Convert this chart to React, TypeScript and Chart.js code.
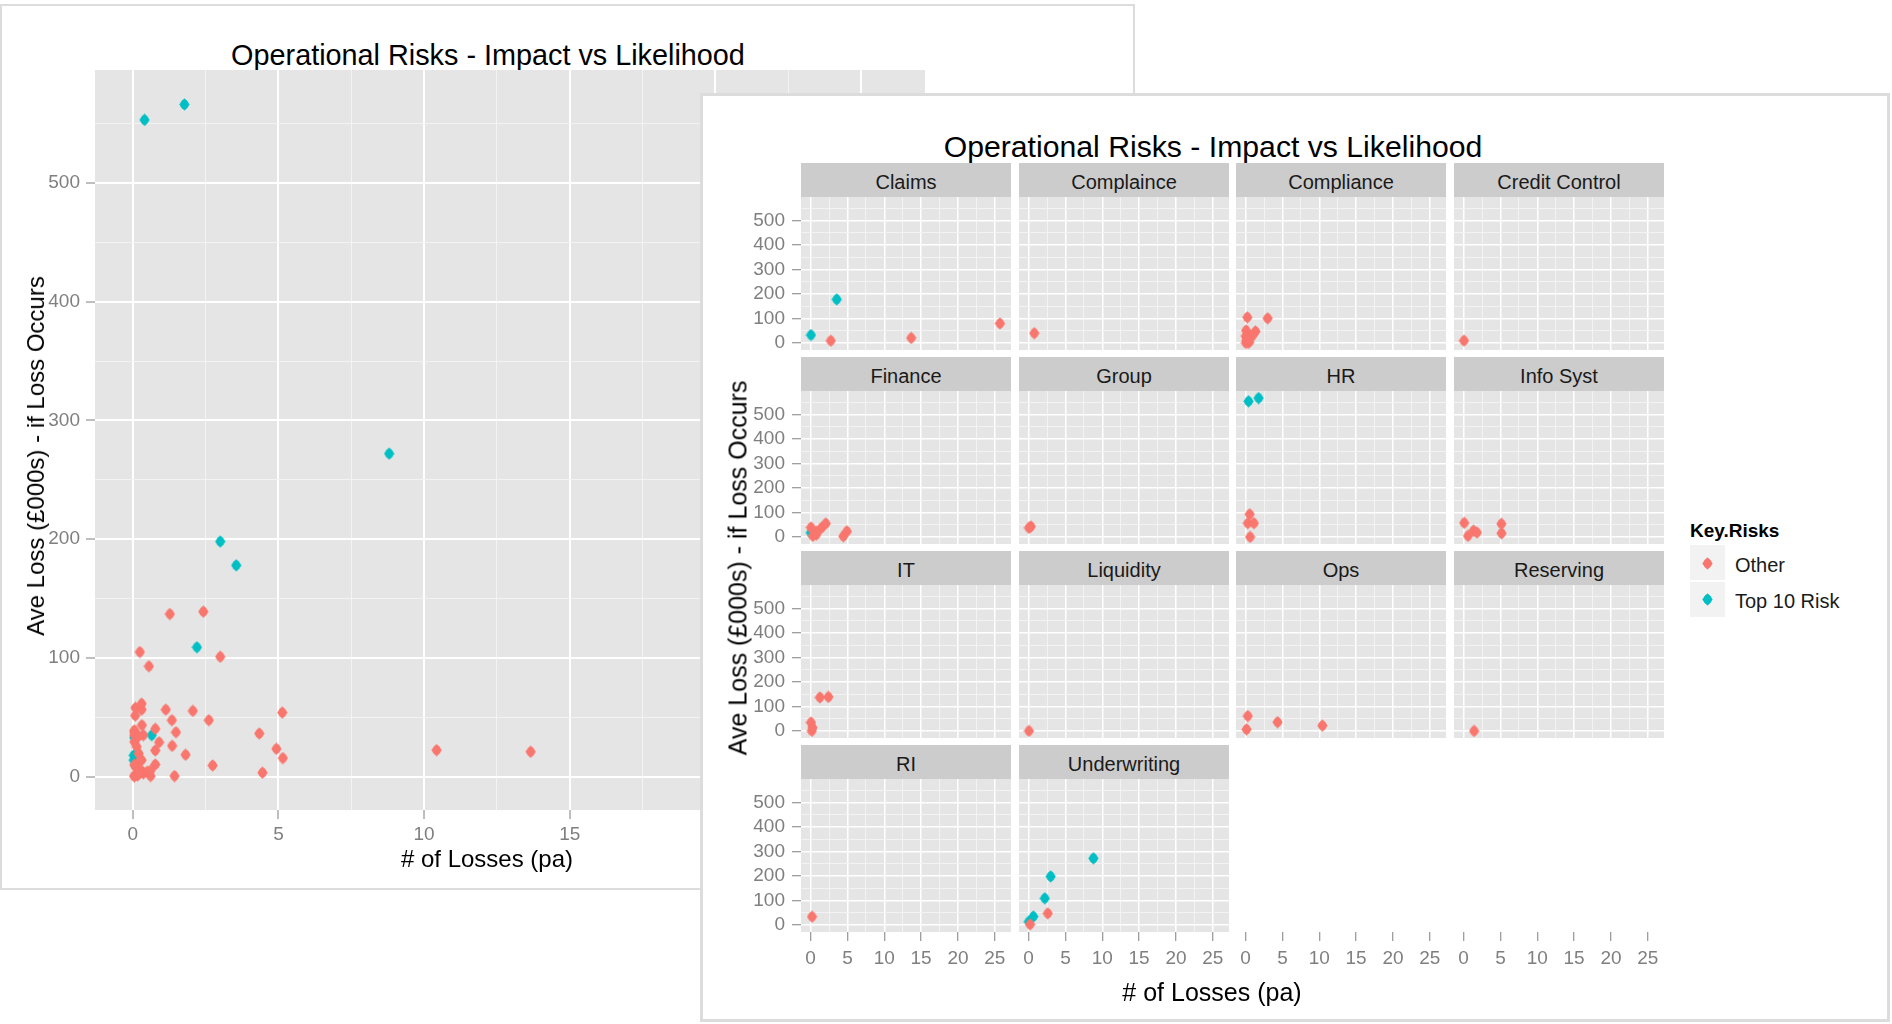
import React, { useEffect, useRef } from 'react';
import { Chart, registerables } from 'chart.js';

Chart.register(...registerables);

const FONT = "'Liberation Sans', Arial, Helvetica, sans-serif";
const OTHER_COLOR = '#F8766D';
const TOP_COLOR = '#00BFC4';

// ---------- data: [# of Losses (pa), Ave Loss (£000s)] ----------
type P = [number, number];
const claimsOther: P[] = [[2.74, 9.5], [13.66, 21], [25.7, 80]];
const claimsTop: P[] = [[0.05, 33], [3.55, 178]];
const complainceOther: P[] = [[0.77, 40.3]];
const complainceTop: P[] = [];
const complianceOther: P[] = [[0.24, 105], [3.0, 101], [0.08, 51.5], [1.34, 47.6], [0.36, 35], [0.13, 25.2], [0.05, 29.4], [0.2, 19.6], [0.49, 4.2], [0.36, 2.8], [0.1, 9], [0.9, 29], [0.05, 0.5], [0.3, 14]];
const complianceTop: P[] = [];
const creditControlOther: P[] = [[0.05, 10]];
const creditControlTop: P[] = [];
const financeOther: P[] = [[0.77, 22.1], [1.48, 37.5], [0.77, 10.3], [2.06, 55.4], [4.45, 3.4], [4.93, 23.5], [0.3, 5], [0.05, 39]];
const financeTop: P[] = [[0.03, 18]];
const groupOther: P[] = [[0.31, 43.4], [0.05, 37.5]];
const groupTop: P[] = [];
const hrOther: P[] = [[0.55, 93], [0.3, 56.5], [1.13, 56.5], [0.61, 0.6]];
const hrTop: P[] = [[0.4, 553], [1.77, 566]];
const infoSystOther: P[] = [[0.09, 58], [0.6, 5], [1.35, 26], [1.81, 18.5], [5.13, 54], [5.15, 15.7]];
const infoSystTop: P[] = [];
const itOther: P[] = [[1.27, 137], [2.42, 139], [0.05, 35], [0.26, 14], [0.16, 1]];
const itTop: P[] = [];
const liquidityOther: P[] = [[0.05, 0.6]];
const liquidityTop: P[] = [];
const opsOther: P[] = [[0.3, 61.5], [0.13, 7], [4.34, 36.4], [10.43, 22.4]];
const opsTop: P[] = [];
const reservingOther: P[] = [[1.43, 0.6]];
const reservingTop: P[] = [];
const riOther: P[] = [[0.2, 34.1]];
const riTop: P[] = [];
const underwritingOther: P[] = [[2.61, 47.6], [0.2, 2.8]];
const underwritingTop: P[] = [[8.8, 272], [3.0, 198], [2.2, 109], [0.65, 35], [0.03, 14]];

const categories = ['Claims', 'Complaince', 'Compliance', 'Credit Control', 'Finance', 'Group', 'HR', 'Info Syst', 'IT', 'Liquidity', 'Ops', 'Reserving', 'RI', 'Underwriting'];
const otherByCategory = [claimsOther, complainceOther, complianceOther, creditControlOther, financeOther, groupOther, hrOther, infoSystOther, itOther, liquidityOther, opsOther, reservingOther, riOther, underwritingOther];
const topByCategory = [claimsTop, complainceTop, complianceTop, creditControlTop, financeTop, groupTop, hrTop, infoSystTop, itTop, liquidityTop, opsTop, reservingTop, riTop, underwritingTop];

const legendLabels = ['Other', 'Top 10 Risk'];
const xMajorTicks = [0, 5, 10, 15, 20, 25];
const xMinorTicks = [2.5, 7.5, 12.5, 17.5, 22.5];
const yMajorTicks = [0, 100, 200, 300, 400, 500];
const yMinorTicks = [50, 150, 250, 350, 450, 550];
const xLimits = [-1.3, 27.2];
const yLimits = [-28, 595];

const TITLE = 'Operational Risks - Impact vs Likelihood';
const X_TITLE = '# of Losses (pa)';
const Y_TITLE = 'Ave Loss (£000s) - if Loss Occurs';

// ---------- helpers ----------
const markerCache: Record<string, HTMLCanvasElement> = {};
function marker(color: string): HTMLCanvasElement {
  if (markerCache[color]) return markerCache[color];
  const c = document.createElement('canvas');
  c.width = 11;
  c.height = 13;
  const g = c.getContext('2d')!;
  g.fillStyle = color;
  g.beginPath();
  g.moveTo(5.5, 0.3);
  g.lineTo(10.7, 6.5);
  g.lineTo(5.5, 12.7);
  g.lineTo(0.3, 6.5);
  g.closePath();
  g.fill();
  g.beginPath();
  g.ellipse(5.5, 6.5, 4.1, 4.9, 0, 0, Math.PI * 2);
  g.fill();
  markerCache[color] = c;
  return c;
}

const panelBg = {
  id: 'panelBg',
  beforeDraw(chart: any, _args: any, opts: any) {
    if (!opts || !opts.color) return;
    const a = chart.chartArea;
    const ctx = chart.ctx;
    ctx.save();
    ctx.fillStyle = opts.color;
    ctx.fillRect(a.left, a.top, a.right - a.left, a.bottom - a.top);
    ctx.restore();
  },
};

function scaleOpts(axis: 'x' | 'y', o: { labels: boolean; grid: boolean; size: number; majorW: number; pad: number }) {
  const majors = axis === 'x' ? xMajorTicks : yMajorTicks;
  const minors = axis === 'x' ? xMinorTicks : yMinorTicks;
  const lim = axis === 'x' ? xLimits : yLimits;
  const all = [...majors, ...minors].sort((a, b) => a - b);
  const isMajor = (v: any) => majors.indexOf(v) >= 0;
  return {
    type: 'linear',
    position: axis === 'x' ? 'bottom' : 'left',
    bounds: 'data',
    min: lim[0],
    max: lim[1],
    afterBuildTicks: (s: any) => {
      s.ticks = all.map((v) => ({ value: v }));
    },
    afterFit: (s: any) => {
      if (axis === 'x') s.height = o.size;
      else s.width = o.size;
    },
    border: { display: false },
    grid: {
      display: true,
      drawOnChartArea: o.grid,
      drawTicks: o.labels,
      tickLength: 9,
      tickWidth: 1,
      tickColor: (c: any) => (c.tick && isMajor(c.tick.value) ? '#7F7F7F' : 'rgba(0,0,0,0)'),
      color: (c: any) => (c.tick && isMajor(c.tick.value) ? '#FFFFFF' : '#F3F3F3'),
      lineWidth: (c: any) => (c.tick && isMajor(c.tick.value) ? o.majorW : 1),
    },
    ticks: {
      display: o.labels,
      autoSkip: false,
      maxRotation: 0,
      minRotation: 0,
      padding: o.pad,
      color: '#7F7F7F',
      font: { family: FONT, size: 19 },
      callback: (v: any) => (isMajor(v) ? String(v) : ''),
    },
  };
}

function datasetsFor(other: P[], top: P[]) {
  return [
    {
      label: legendLabels[0],
      data: other.map(([x, y]) => ({ x, y })),
      pointStyle: marker(OTHER_COLOR),
      pointRadius: 5,
      backgroundColor: OTHER_COLOR,
      borderWidth: 0,
    },
    {
      label: legendLabels[1],
      data: top.map(([x, y]) => ({ x, y })),
      pointStyle: marker(TOP_COLOR),
      pointRadius: 5,
      backgroundColor: TOP_COLOR,
      borderWidth: 0,
    },
  ];
}

function ChartCanvas(props: { left: number; top: number; width: number; height: number; z: number; build: () => any }) {
  const ref = useRef<HTMLCanvasElement>(null);
  useEffect(() => {
    const chart = new Chart(ref.current as HTMLCanvasElement, props.build());
    return () => chart.destroy();
  }, []);
  return (
    <canvas
      ref={ref}
      width={props.width}
      height={props.height}
      style={{ position: 'absolute', left: props.left, top: props.top, width: props.width, height: props.height, zIndex: props.z }}
    />
  );
}

function Text(props: { x: number; y: number; text: string; size: number; z: number; bold?: boolean; color?: string; rotate?: boolean; anchor?: 'center' | 'left' }) {
  const t = props.anchor === 'left' ? 'translate(0,-50%)' : props.rotate ? 'translate(-50%,-50%) rotate(-90deg)' : 'translate(-50%,-50%)';
  return (
    <div
      style={{
        position: 'absolute',
        left: props.x,
        top: props.y,
        transform: t,
        fontFamily: FONT,
        fontSize: props.size,
        fontWeight: props.bold ? 'bold' : 'normal',
        color: props.color || '#000000',
        lineHeight: 1,
        whiteSpace: 'nowrap',
        zIndex: props.z,
      }}
    >
      {props.text}
    </div>
  );
}

// ---------- back (single panel) chart ----------
function buildBack() {
  const allOther = ([] as P[]).concat(...otherByCategory);
  const allTop = ([] as P[]).concat(...topByCategory);
  return {
    type: 'scatter',
    data: { datasets: datasetsFor(allOther, allTop) },
    plugins: [panelBg],
    options: {
      responsive: false,
      animation: false,
      events: [],
      devicePixelRatio: 1,
      layout: { autoPadding: false, padding: { left: 35, top: 70, right: 210, bottom: 39 } },
      scales: {
        x: scaleOpts('x', { labels: true, grid: true, size: 40, majorW: 2, pad: 4 }),
        y: scaleOpts('y', { labels: true, grid: true, size: 60, majorW: 2, pad: 6 }),
      },
      plugins: { legend: { display: false }, tooltip: { enabled: false }, panelBg: { color: '#E5E5E5' } },
    },
  };
}

// ---------- facet layout ----------
const colLeft = [801, 1019, 1236, 1454];
const rowTop = [163, 357, 551, 745];
const STRIP_H = 34;
const PANEL_W = 210;
const PANEL_H = 153;
const PAD = 24;
const Y_AXIS_W = 56;
const X_AXIS_H = 40;

function facetGeometry(col: number, row: number, bottom: boolean) {
  const pl = colLeft[col];
  const pt = rowTop[row] + STRIP_H;
  const yw = col === 0 ? Y_AXIS_W : 0;
  const xh = bottom ? X_AXIS_H : 0;
  const left = pl - PAD - yw;
  const top = pt - PAD;
  const width = PANEL_W + 2 * PAD + yw;
  const height = PANEL_H + 2 * PAD + xh;
  return { left, top, width, height };
}

function buildFacet(i: number | null, col: number, bottom: boolean) {
  const axisOnly = i === null;
  return () => ({
    type: 'scatter',
    data: { datasets: axisOnly ? [] : datasetsFor(otherByCategory[i as number], topByCategory[i as number]) },
    plugins: [panelBg],
    options: {
      responsive: false,
      animation: false,
      events: [],
      devicePixelRatio: 1,
      layout: { autoPadding: false, padding: PAD },
      scales: {
        x: scaleOpts('x', { labels: bottom, grid: !axisOnly, size: bottom ? X_AXIS_H : 0, majorW: 1.5, pad: 6 }),
        y: scaleOpts('y', { labels: col === 0 && !axisOnly, grid: !axisOnly, size: col === 0 ? Y_AXIS_W : 0, majorW: 1.5, pad: 7 }),
      },
      plugins: { legend: { display: false }, tooltip: { enabled: false }, panelBg: { color: axisOnly ? '' : '#E5E5E5' } },
    },
  });
}

function LegendMarker(props: { x: number; y: number; color: string; z: number }) {
  return (
    <svg width={11} height={13} style={{ position: 'absolute', left: props.x - 5.5, top: props.y - 6.5, zIndex: props.z }}>
      <polygon points="5.5,0.3 10.7,6.5 5.5,12.7 0.3,6.5" fill={props.color} />
      <ellipse cx={5.5} cy={6.5} rx={4.1} ry={4.9} fill={props.color} />
    </svg>
  );
}

export default function App() {
  const facetCells = categories.map((name, i) => {
    const col = i % 4;
    const row = Math.floor(i / 4);
    const bottom = row === 3;
    return { name, i, col, row, bottom };
  });
  const axisOnlyCols = [2, 3];

  return (
    <div style={{ position: 'absolute', left: 0, top: 0, width: 1892, height: 1024, background: '#FFFFFF', overflow: 'hidden' }}>
      {/* back window */}
      <div style={{ position: 'absolute', left: 0, top: 4, width: 1135, height: 886, boxSizing: 'border-box', border: '2px solid #DCDCDC', background: '#FFFFFF', zIndex: 1 }} />
      <Text x={488} y={55} text={TITLE} size={28.8} z={2} />
      <ChartCanvas left={0} top={0} width={1135} height={889} z={2} build={buildBack} />
      <Text x={36} y={456} text={Y_TITLE} size={24} z={2} rotate />
      <Text x={487} y={859} text={X_TITLE} size={24} z={2} />

      {/* front window */}
      <div style={{ position: 'absolute', left: 700, top: 93, width: 1190, height: 929, boxSizing: 'border-box', border: '3px solid #DCDCDC', background: '#FFFFFF', zIndex: 10 }} />
      <Text x={1213} y={147} text={TITLE} size={30.2} z={11} />
      {facetCells.map((c) => (
        <div
          key={'s' + c.i}
          style={{ position: 'absolute', left: colLeft[c.col], top: rowTop[c.row], width: PANEL_W, height: STRIP_H, background: '#CCCCCC', zIndex: 11 }}
        />
      ))}
      {facetCells.map((c) => (
        <Text key={'t' + c.i} x={colLeft[c.col] + PANEL_W / 2} y={rowTop[c.row] + 19} text={c.name} size={20} color="#1A1A1A" z={12} />
      ))}
      {facetCells.map((c) => {
        const g = facetGeometry(c.col, c.row, c.bottom);
        return <ChartCanvas key={'c' + c.i} left={g.left} top={g.top} width={g.width} height={g.height} z={12} build={buildFacet(c.i, c.col, c.bottom)} />;
      })}
      {axisOnlyCols.map((col) => {
        const g = facetGeometry(col, 3, true);
        return <ChartCanvas key={'a' + col} left={g.left} top={g.top} width={g.width} height={g.height} z={12} build={buildFacet(null, col, true)} />;
      })}
      <Text x={738} y={568} text={Y_TITLE} size={25} z={12} rotate />
      <Text x={1212} y={992} text={X_TITLE} size={25} z={12} />

      {/* legend */}
      <Text x={1690} y={530} text="Key.Risks" size={19} bold z={12} anchor="left" />
      <div style={{ position: 'absolute', left: 1690, top: 545, width: 35, height: 35, background: '#F2F2F2', zIndex: 11 }} />
      <div style={{ position: 'absolute', left: 1690, top: 582, width: 35, height: 35, background: '#F2F2F2', zIndex: 11 }} />
      <LegendMarker x={1707.5} y={563} color={OTHER_COLOR} z={12} />
      <LegendMarker x={1707.5} y={599.5} color={TOP_COLOR} z={12} />
      <Text x={1735} y={565} text={legendLabels[0]} size={20} color="#1A1A1A" z={12} anchor="left" />
      <Text x={1735} y={601} text={legendLabels[1]} size={20} color="#1A1A1A" z={12} anchor="left" />
    </div>
  );
}
